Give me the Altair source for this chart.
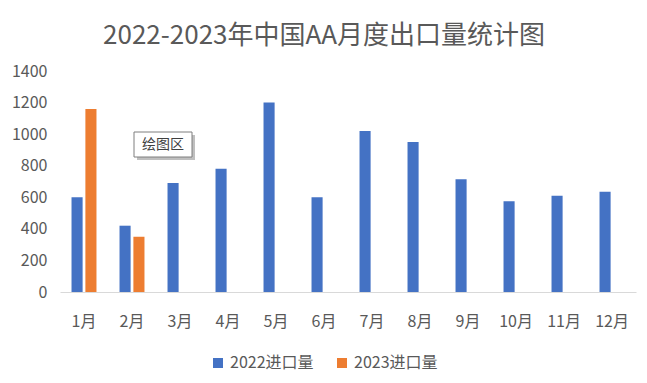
import altair as alt
import pandas as pd

months = ["1月", "2月", "3月", "4月", "5月", "6月", "7月", "8月", "9月", "10月", "11月", "12月"]
series = ["2022进口量", "2023进口量"]
v2022 = [600, 420, 690, 780, 1200, 600, 1020, 950, 715, 575, 610, 635]
v2023 = [1160, 350]
y_ticks = [0, 200, 400, 600, 800, 1000, 1200, 1400]
title_text = "2022-2023年中国AA月度出口量统计图"
note_text = ["绘图区"]

rows = []
for m, v in zip(months, v2022):
    rows.append({"month": m, "series": series[0], "value": v})
for m, v in zip(months, v2023):
    rows.append({"month": m, "series": series[1], "value": v})
df = pd.DataFrame(rows)

FONT = "Noto Sans CJK SC"
GRAY = "#595959"

bars = alt.Chart(df).mark_bar().encode(
    x=alt.X("month:N", sort=months,
            scale=alt.Scale(paddingInner=0.48, paddingOuter=0.24),
            axis=alt.Axis(title=None, labelAngle=0, ticks=False, domainColor="#D9D9D9",
                          labelFontSize=16, labelColor=GRAY, labelFont=FONT, labelPadding=21,
                          grid=False)),
    xOffset=alt.XOffset("series:N", sort=series, scale=alt.Scale(paddingInner=0.2)),
    y=alt.Y("value:Q", scale=alt.Scale(domain=[0, 1400], nice=False),
            axis=alt.Axis(title=None, values=y_ticks, format="d", ticks=False, domain=False,
                          grid=False, labelFontSize=16, labelColor=GRAY, labelFont=FONT,
                          labelPadding=13)),
    color=alt.Color("series:N", sort=series,
                    scale=alt.Scale(domain=series, range=["#4472C4", "#ED7D31"]),
                    legend=alt.Legend(title=None, orient="none", direction="horizontal",
                                      legendX=150, legendY=284, padding=0,
                                      symbolType="square", symbolSize=100, symbolStrokeWidth=0,
                                      labelFontSize=16, labelColor=GRAY, labelFont=FONT,
                                      columnPadding=20, labelOffset=4)),
)

note_df = pd.DataFrame({"label": note_text})
shadow = alt.Chart(note_df).mark_rect(color="#BFBFBF").encode(
    x=alt.value(77), x2=alt.value(135), y=alt.value(64), y2=alt.value(89))
box = alt.Chart(note_df).mark_rect(fill="white", stroke="#7F7F7F", strokeWidth=1).encode(
    x=alt.value(74), x2=alt.value(132), y=alt.value(61), y2=alt.value(86))
note = alt.Chart(note_df).mark_text(font=FONT, fontSize=14, color="#404040",
                                     align="center", baseline="middle").encode(
    x=alt.value(103), y=alt.value(73.5), text="label:N")

chart = alt.layer(bars, shadow, box, note).properties(
    width=576, height=221,
    title=alt.TitleParams(title_text, fontSize=26, font=FONT, color=GRAY, fontWeight="normal",
                          anchor="middle", frame="group", dx=-24, offset=14),
    autosize=alt.AutoSizeParams(type="none"),
    padding={"left": 52, "top": 63, "right": 3, "bottom": 80},
).configure_view(stroke=None)

chart.save("out.html", embed_options={"renderer": "svg", "actions": False})
